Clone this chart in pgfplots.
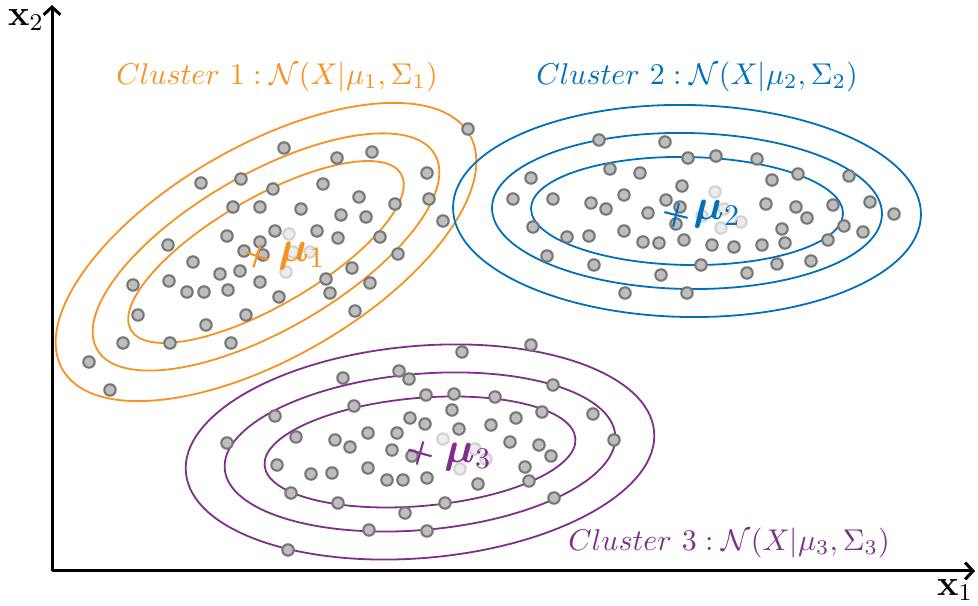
\documentclass[border=0pt]{standalone}
\usepackage{pgfplots}
\usepackage{pgfplotstable}
\usepackage{amsmath,amssymb,bm}
\pgfplotsset{compat=1.18}
\usetikzlibrary{arrows.meta}
\definecolor{corange}{RGB}{245,146,32}
\definecolor{cblue}{RGB}{0,112,186}
\definecolor{cpurple}{RGB}{128,46,140}
\definecolor{ptfill}{RGB}{190,190,190}
\definecolor{ptedge}{RGB}{118,118,118}

% points in picture pixels (px, py measured from top)
\pgfplotstableread{
px py
468 129
284 148
337 158
372 152
201 183
241 179
323 184
427 173
273 189
359 197
395 204
429 199
443 221
233 207
260 207
301 209
341 215
366 217
168 245
227 236
260 242
275 231
317 231
338 238
380 237
398 254
244 251
263 255
193 262
220 274
240 271
260 282
279 297
133 285
169 281
187 292
204 292
228 290
138 315
206 325
246 315
123 343
170 343
231 343
89 362
110 390
326 279
352 268
370 283
330 293
355 311
}\clusterA
\pgfplotstableread{
px py
289 234
286 272
293 252
310 252
}\clusterAlight
\pgfplotstableread{
px py
599 140
665 142
688 158
531 178
610 169
640 173
682 186
513 199
553 199
591 203
606 209
624 195
648 213
666 200
680 207
676 224
533 227
567 237
589 236
624 231
643 242
659 243
684 240
547 256
594 265
661 275
625 293
687 293
716 156
757 159
772 180
798 174
849 176
766 204
796 207
807 218
833 205
870 202
894 214
844 226
863 232
782 229
712 245
734 247
762 245
785 243
828 240
701 265
747 273
777 264
811 261
}\clusterB
\pgfplotstableread{
px py
715 192
702 216
724 209
741 222
721 228
}\clusterBlight
\pgfplotstableread{
px py
343 378
399 371
409 379
426 395
354 406
275 416
227 443
296 437
335 440
350 447
368 433
397 433
410 418
425 424
392 450
412 456
277 465
311 474
332 473
368 468
387 480
403 480
427 478
291 493
338 503
405 513
369 530
427 531
288 550
462 352
531 345
454 394
495 397
553 385
452 410
516 418
542 412
593 414
459 429
491 425
510 442
539 445
551 456
614 440
478 484
525 467
529 481
554 498
445 503
}\clusterC
\pgfplotstableread{
px py
443 439
475 449
486 459
460 469
}\clusterClight

\begin{document}
\begin{tikzpicture}
\begin{axis}[
  set layers,
  x=0.3333pt, y=0.3333pt,
  xmin=52, xmax=975, ymin=0, ymax=566,
  axis lines=left,
  axis line style={line width=1pt, -{Straight Barb[length=2.6pt,width=5.6pt]}},
  xtick=\empty, ytick=\empty,
  clip=false,
  pts/.style={only marks, mark=*, mark size=1.9pt,
     mark options={fill=ptfill, draw=ptedge, line width=0.7pt}},
  ptslight/.style={only marks, mark=*, mark size=1.9pt,
     mark options={fill=gray!15, draw=gray!35, line width=0.7pt}},
]
\coordinate (bbA) at (axis cs:0,-35);
\coordinate (bbB) at (axis cs:978,571);

% orange ellipses
\draw[corange, line width=0.6pt, rotate around={30:(axis cs:266,319)}] (axis cs:266,319) ellipse [x radius=156, y radius=54];
\draw[corange, line width=0.6pt, rotate around={30:(axis cs:266,319)}] (axis cs:266,319) ellipse [x radius=195, y radius=78];
\draw[corange, line width=0.6pt, rotate around={30:(axis cs:266,319)}] (axis cs:266,319) ellipse [x radius=235, y radius=106];
% blue ellipses
\draw[cblue, line width=0.6pt, rotate around={-1:(axis cs:687,360)}] (axis cs:687,360) ellipse [x radius=156, y radius=54];
\draw[cblue, line width=0.6pt, rotate around={-1:(axis cs:687,360)}] (axis cs:687,360) ellipse [x radius=195, y radius=78];
\draw[cblue, line width=0.6pt, rotate around={-1:(axis cs:687,360)}] (axis cs:687,360) ellipse [x radius=234, y radius=106];
% purple ellipses
\draw[cpurple, line width=0.6pt, rotate around={5:(axis cs:420,119)}] (axis cs:420,119) ellipse [x radius=156, y radius=54];
\draw[cpurple, line width=0.6pt, rotate around={5:(axis cs:420,119)}] (axis cs:420,119) ellipse [x radius=196, y radius=78];
\draw[cpurple, line width=0.6pt, rotate around={5:(axis cs:420,119)}] (axis cs:420,119) ellipse [x radius=235, y radius=106];

\addplot[pts] table[x=px, y expr=571-\thisrow{py}] {\clusterA};
\addplot[pts] table[x=px, y expr=571-\thisrow{py}] {\clusterB};
\addplot[pts] table[x=px, y expr=571-\thisrow{py}] {\clusterC};
\addplot[ptslight] table[x=px, y expr=571-\thisrow{py}] {\clusterAlight};
\addplot[ptslight] table[x=px, y expr=571-\thisrow{py}] {\clusterBlight};
\addplot[ptslight] table[x=px, y expr=571-\thisrow{py}] {\clusterClight};

% means
\addplot[only marks, mark=+, mark size=4pt, corange, mark options={rotate=-18, line width=0.7pt}] coordinates {(257,315)};
\addplot[only marks, mark=+, mark size=4pt, cblue, mark options={rotate=-14, line width=0.7pt}] coordinates {(676,356)};
\addplot[only marks, mark=+, mark size=4pt, cpurple, mark options={rotate=-16, line width=0.7pt}] coordinates {(420,118)};

\begin{pgfonlayer}{axis foreground}
\node[corange, font=\Large] at (axis cs:302,315) {$\bm{\mu}_1$};
\node[cblue, font=\Large] at (axis cs:717,357) {$\bm{\mu}_2$};
\node[cpurple, font=\Large] at (axis cs:468,114) {$\bm{\mu}_3$};
\end{pgfonlayer}

\node[corange] at (axis cs:277,494) {$Cluster\ 1 : \mathcal{N}(X|\mu_1, \Sigma_1)$};
\node[cblue] at (axis cs:697,494) {$Cluster\ 2 : \mathcal{N}(X|\mu_2, \Sigma_2)$};
\node[cpurple] at (axis cs:729,28) {$Cluster\ 3 : \mathcal{N}(X|\mu_3, \Sigma_3)$};

\node[font=\large] at (axis cs:26,551) {$\mathbf{x}_2$};
\node[font=\large] at (axis cs:955,-19) {$\mathbf{x}_1$};
\end{axis}
\pgfresetboundingbox
\useasboundingbox (bbA) rectangle (bbB);
\end{tikzpicture}
\end{document}
